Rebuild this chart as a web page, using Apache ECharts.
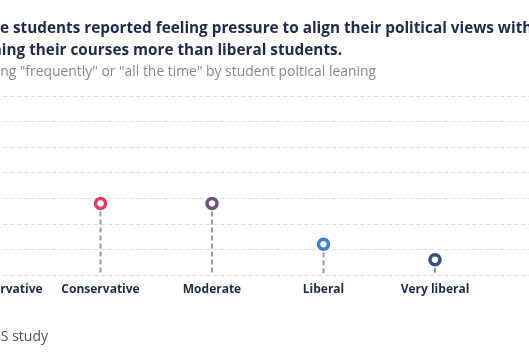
<!DOCTYPE html>
<html>
<head>
<meta charset="utf-8">
<script src="https://cdn.jsdelivr.net/npm/echarts@6/dist/echarts.min.js"></script>
<style>
html,body{margin:0;padding:0;width:529px;height:353px;overflow:hidden;background:#fff;position:relative;}
#chart{position:absolute;left:-100px;top:0;width:800px;height:353px;}
</style>
</head>
<body>
<div id="chart"></div>
<script>
const categories = ['Very conservative', 'Conservative', 'Moderate', 'Liberal', 'Very liberal'];
const values = [20, 14, 14, 6, 3];
const markerColors = ['#b5123a', '#d90b3c', '#4a2465', '#1060bd', '#082551'];
const yMax = 35;
const yStep = 5;

const titleLine1 = 'Conservative students reported feeling pressure to align their political views with their professors\u2019';
const titleLine2 = 'views when planning their courses more than liberal students.';
const subtitle = 'Percent of students reporting "frequently" or "all the time" by student poltical leaning';
const source = 'Source: FIRE 2024 CHESS study';

const OFF = 100; // chart div offset
const titleFont = 'bold 15.3px "Open Sans"';
const cv = document.createElement('canvas').getContext('2d');
cv.font = titleFont;
const cutW = cv.measureText('Conservativ').width;

const chart = echarts.init(document.getElementById('chart'), null, {renderer: 'canvas'});
chart.setOption({
  animation: false,
  backgroundColor: '#fff',
  grid: {left: 33.25, right: 153.5, top: 96, bottom: 78},
  xAxis: {
    type: 'value', min: -0.5, max: 5,
    axisLine: {show: false}, axisTick: {show: false}, splitLine: {show: false},
    axisLabel: {
      customValues: [0, 1, 2, 3, 4],
      formatter: v => categories[v] || '',
      fontFamily: 'Open Sans', fontWeight: 'bold', fontSize: 12, color: '#1e2b48', margin: 9
    }
  },
  yAxis: {
    type: 'value', min: 0, max: yMax, interval: yStep,
    axisLine: {show: false}, axisTick: {show: false}, axisLabel: {show: false},
    splitLine: {show: true, lineStyle: {color: '#dcdcdc', width: 1, type: [4, 3]}}
  },
  series: [
    {
      type: 'custom',
      data: values.map((v, i) => [i, v]),
      renderItem: function (params, api) {
        const top = api.coord([api.value(0), api.value(1)]);
        const bot = api.coord([api.value(0), 0]);
        return {
          type: 'line',
          shape: {x1: top[0], y1: top[1] + 8, x2: bot[0], y2: bot[1]},
          style: {stroke: '#9a9a9a', lineWidth: 2, lineDash: [5, 3]}
        };
      },
      z: 2
    },
    {
      type: 'scatter',
      symbol: 'circle',
      symbolSize: 10,
      data: values.map((v, i) => ({value: [i, v], itemStyle: {borderColor: markerColors[i]}})),
      itemStyle: {color: '#fff', borderWidth: 3.5},
      z: 3
    }
  ],
  graphic: [
    {type: 'text', x: OFF - cutW, y: 36, style: {text: titleLine1, font: titleFont, fill: '#1e2b48', textAlign: 'left', textVerticalAlign: 'bottom'}},
    {type: 'text', x: OFF + 342, y: 58, style: {text: titleLine2, font: titleFont, fill: '#1e2b48', textAlign: 'right', textVerticalAlign: 'bottom'}},
    {type: 'text', x: OFF + 376, y: 79, style: {text: subtitle, font: '13.9px "Open Sans"', fill: '#888888', textAlign: 'right', textVerticalAlign: 'bottom'}},
    {type: 'text', x: OFF + 48, y: 344, style: {text: source, font: '14px "Open Sans"', fill: '#555555', textAlign: 'right', textVerticalAlign: 'bottom'}}
  ]
});
</script>
</body>
</html>
